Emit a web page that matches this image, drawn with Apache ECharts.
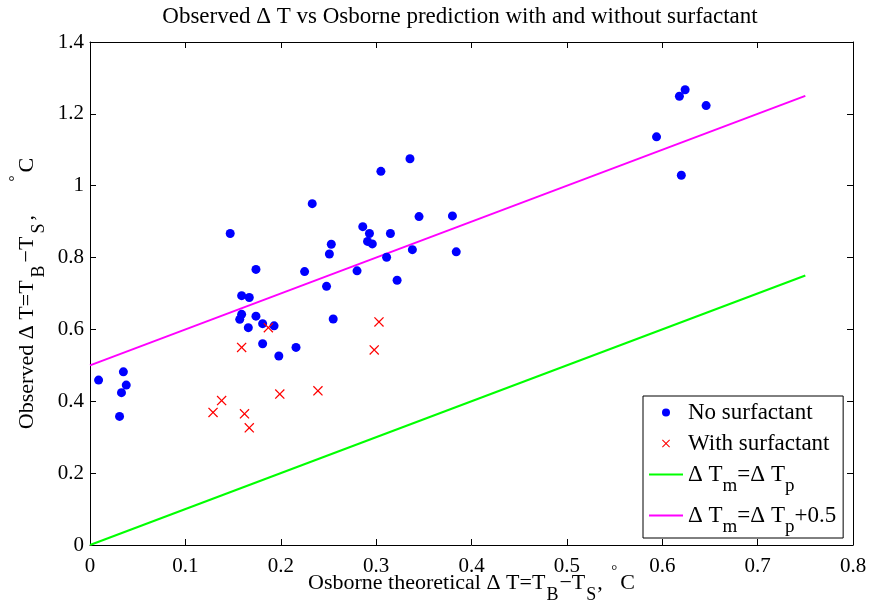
<!DOCTYPE html>
<html>
<head>
<meta charset="utf-8">
<script src="https://cdn.jsdelivr.net/npm/echarts@6/dist/echarts.min.js"></script>
<style>
  html, body { margin: 0; padding: 0; background: #fff; }
  #chart { width: 871px; height: 607px; }
</style>
</head>
<body>
<div id="chart"></div>
<script>
// measured points, no surfactant  [theory dT, observed dT]
const noSurfactant = [
  [0.009, 0.459], [0.035, 0.482], [0.038, 0.445], [0.033, 0.424], [0.031, 0.358],
  [0.181, 0.560], [0.198, 0.526], [0.216, 0.550],
  [0.147, 0.867], [0.233, 0.950], [0.305, 1.040], [0.174, 0.767], [0.159, 0.694],
  [0.167, 0.689], [0.225, 0.761], [0.253, 0.837], [0.251, 0.810], [0.248, 0.720],
  [0.286, 0.886], [0.293, 0.867], [0.291, 0.845], [0.296, 0.838], [0.315, 0.867],
  [0.311, 0.801], [0.280, 0.763], [0.322, 0.737], [0.159, 0.642], [0.157, 0.628],
  [0.174, 0.637], [0.181, 0.616], [0.193, 0.610], [0.166, 0.605], [0.255, 0.629],
  [0.3355, 1.075], [0.345, 0.914], [0.380, 0.916], [0.338, 0.822], [0.384, 0.816],
  [0.624, 1.267], [0.618, 1.249], [0.646, 1.223], [0.594, 1.136], [0.620, 1.029]
];
// measured points, with surfactant
const withSurfactant = [
  [0.159, 0.550], [0.138, 0.402], [0.129, 0.369], [0.162, 0.365], [0.167, 0.326],
  [0.199, 0.420], [0.239, 0.429], [0.298, 0.543], [0.187, 0.605], [0.303, 0.621]
];
// reference lines
const lineEqual = [[0, 0], [0.75, 0.75]];
const lineOffset = [[0, 0.5], [0.75, 1.25]];

const xTicks = { min: 0, max: 0.8, interval: 0.1 };
const yTicks = { min: 0, max: 1.4, interval: 0.2 };

const FONT = 'Liberation Serif';
const crossPath = 'path://M0,0.09L0.09,0L0.5,0.41L0.91,0L1,0.09L0.59,0.5L1,0.91L0.91,1L0.5,0.59L0.09,1L0,0.91L0.41,0.5Z';
const dashIcon = 'path://M0,0L34,0L34,2.2L0,2.2Z';

const chart = echarts.init(document.getElementById('chart'));

function richSet(size, side, degGap) {
  return {
    n: { fontFamily: FONT, fontSize: size, color: '#000' },
    s: { fontFamily: FONT, fontSize: size - 4, color: '#000', padding: [24, side, 0, side] },
    u: { fontFamily: FONT, fontSize: size - 7, color: '#000', padding: [0, 3, 24, degGap] }
  };
}

const legendNames = {
  'No surfactant': '{n|No surfactant}',
  'With surfactant': '{n|With surfactant}',
  'eq': '{n|Δ T}{s|m}{n|=Δ T}{s|p}',
  'off': '{n|Δ T}{s|m}{n|=Δ T}{s|p}{n|+0.5}'
};

const frameAxis = {
  axisLine: { show: true, onZero: false, lineStyle: { color: '#000', width: 1 } },
  axisTick: { show: true, inside: true, length: 6, lineStyle: { color: '#000' } },
  splitLine: { show: false }
};

chart.setOption({
  animation: false,
  backgroundColor: '#fff',
  title: {
    text: 'Observed Δ T vs Osborne prediction with and without surfactant',
    left: 455, top: 0, textAlign: 'center',
    textStyle: { fontFamily: FONT, fontSize: 23, fontWeight: 'normal', color: '#000' }
  },
  grid: { left: 90, right: 18, top: 42, bottom: 62, containLabel: false, outerBoundsMode: 'none' },
  legend: {
    orient: 'vertical',
    left: 643, top: 396,
    padding: [5, 7, 1, 6],
    itemWidth: 34, itemHeight: 8,
    itemGap: 8,
    backgroundColor: '#fff',
    borderColor: '#000', borderWidth: 1,
    data: [
      { name: 'No surfactant', icon: 'circle' },
      { name: 'With surfactant', icon: crossPath },
      { name: 'eq', icon: dashIcon },
      { name: 'off', icon: dashIcon }
    ],
    formatter: name => legendNames[name],
    textStyle: { rich: richSet(23, 0, 3) }
  },
  xAxis: [
    Object.assign({
      type: 'value', position: 'bottom', min: xTicks.min, max: xTicks.max, interval: xTicks.interval,
      name: '{n|Osborne theoretical Δ T=T}{s|B}{n|−T}{s|S}{n|, }{u|°}{n|C}',
      nameLocation: 'middle', nameGap: 17, nameMoveOverlap: false,
      nameTextStyle: { rich: richSet(22, 1, 3) },
      axisLabel: { fontFamily: FONT, fontSize: 21, color: '#000', margin: 11 }
    }, frameAxis),
    Object.assign({
      type: 'value', position: 'top', min: xTicks.min, max: xTicks.max, interval: xTicks.interval,
      axisLabel: { show: false }
    }, frameAxis)
  ],
  yAxis: [
    Object.assign({
      type: 'value', position: 'left', min: yTicks.min, max: yTicks.max, interval: yTicks.interval,
      name: '{n|Observed Δ T=T}{s|B}{n|−T}{s|S}{n|, }{u|°}{n|C}',
      nameLocation: 'middle', nameGap: 42, nameRotate: 90, nameMoveOverlap: false,
      nameTextStyle: { rich: richSet(22, 3, 28) },
      axisLabel: { fontFamily: FONT, fontSize: 21, color: '#000', margin: 6 }
    }, frameAxis),
    Object.assign({
      type: 'value', position: 'right', min: yTicks.min, max: yTicks.max, interval: yTicks.interval,
      axisLabel: { show: false }
    }, frameAxis)
  ],
  series: [
    {
      name: 'No surfactant', type: 'scatter', data: noSurfactant,
      symbol: 'circle', symbolSize: 9,
      itemStyle: { color: '#0000ff', opacity: 1 }, z: 3
    },
    {
      name: 'With surfactant', type: 'scatter', data: withSurfactant,
      symbol: crossPath, symbolSize: 10,
      itemStyle: { color: '#ff0000', opacity: 1 }, z: 3
    },
    {
      name: 'eq', type: 'line', data: lineEqual, symbol: 'none',
      lineStyle: { color: '#00ff00', width: 2 }, itemStyle: { color: '#00ff00' }
    },
    {
      name: 'off', type: 'line', data: lineOffset, symbol: 'none',
      lineStyle: { color: '#ff00ff', width: 2 }, itemStyle: { color: '#ff00ff' }
    }
  ]
});
</script>
</body>
</html>
